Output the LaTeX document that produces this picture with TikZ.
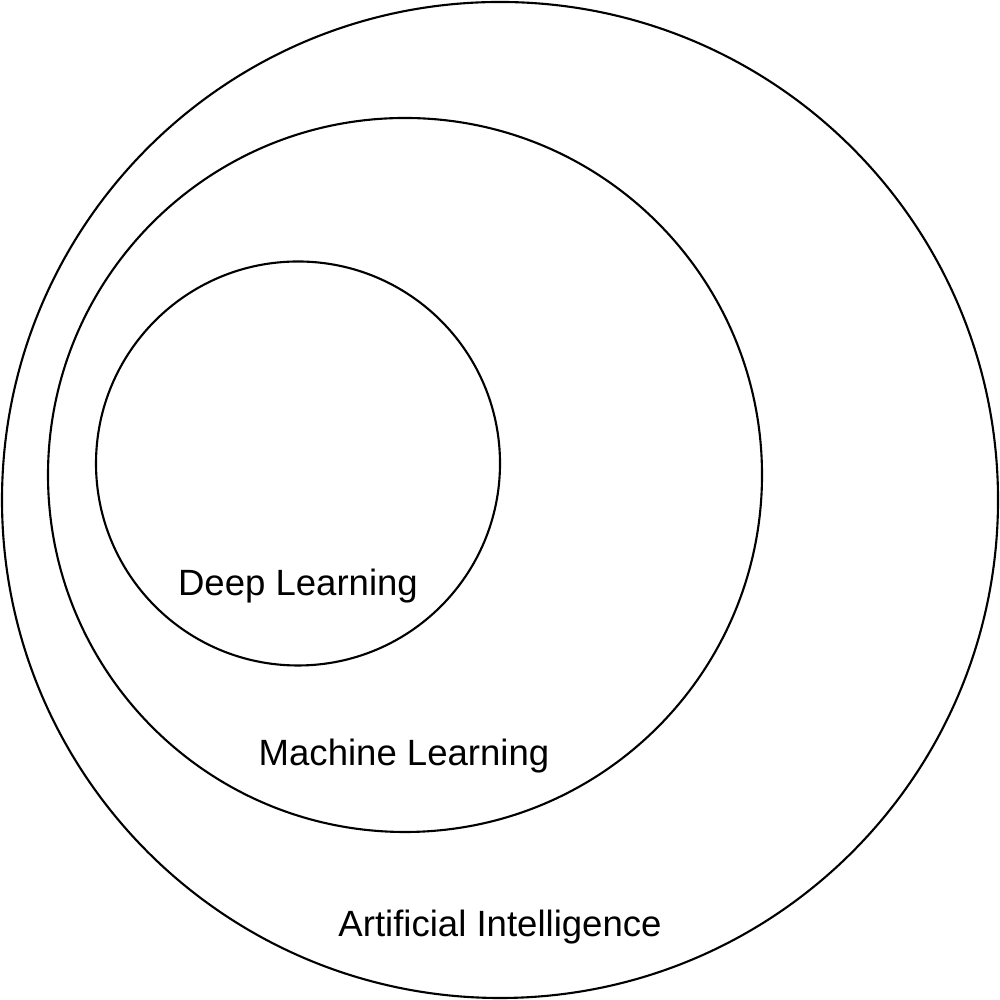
\documentclass[tikz,border=0pt]{standalone}
\usepackage{fontspec}
\setmainfont{Liberation Sans}
\tikzset{
    ring/.style = {circle, draw=black, line width=0.6pt, inner sep=0pt},
    tag/.style = {anchor=base, font=\fontsize{10.4}{12}\selectfont}
}
\begin{document}
\begin{tikzpicture}
\useasboundingbox (0,0) rectangle (10,10);
\node (ai) [ring, minimum size=9.96cm] at (5.00,5.00) {};
\node (ml) [ring, minimum size=7.14cm] at (4.05,5.25) {};
\node (dl) [ring, minimum size=4.04cm] at (2.98,5.365) {};

\node (dltext) [tag] at (2.98,4.04) {Deep Learning};
\node (mltext) [tag] at (4.04,2.34) {Machine Learning};
\node (aitext) [tag] at (5.00,0.63) {Artificial Intelligence};
\end{tikzpicture}
\end{document}
